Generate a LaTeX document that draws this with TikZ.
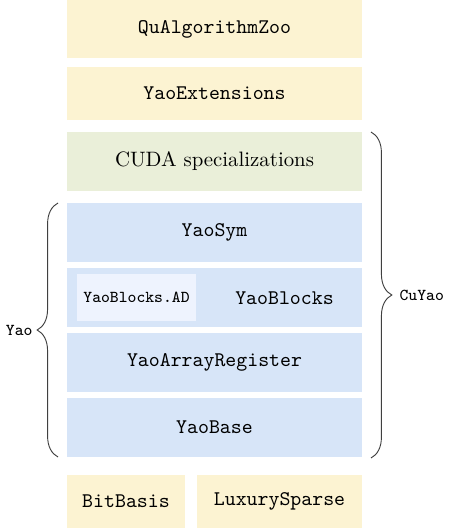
\documentclass[tikz,border=0pt]{standalone}
\usetikzlibrary{decorations.pathreplacing}
\definecolor{yyel}{RGB}{252,243,210}
\definecolor{ygrn}{RGB}{234,239,217}
\definecolor{yblu}{RGB}{215,229,248}
\definecolor{yin}{RGB}{238,243,254}
\begin{document}
\begin{tikzpicture}[x=0.48pt,y=-0.48pt,
  layer/.style={inner sep=0pt,outer sep=0pt,minimum width=141.6pt,minimum height=28.32pt,font=\ttfamily},
  yel/.style={layer,fill=yyel},
  grn/.style={layer,fill=ygrn,font=\rmfamily},
  blu/.style={layer,fill=yblu},
  inner/.style={inner sep=0pt,fill=yin,minimum width=57.1pt,minimum height=22.56pt,font=\ttfamily\footnotesize},
  brc/.style={decorate,decoration={brace,amplitude=10pt},draw=black!75,line width=0.45pt},
  side/.style={font=\ttfamily\footnotesize,inner sep=1pt}]
\useasboundingbox (0,0) rectangle (450,528);
\node[yel,minimum height=27.84pt] (qaz) at (214.5,29) {QuAlgorithmZoo};
\node[yel,minimum height=25.44pt] (ext) at (214.5,93.5) {YaoExtensions};
\node[grn] (cuda) at (214.5,161.5) {CUDA specializations};
\node[blu] (sym) at (214.5,232.5) {YaoSym};
\node[blu] (blocks) at (214.5,297.5) {};
\node[inner] (ad) at (136.5,297.5) {YaoBlocks.AD};
\node[font=\ttfamily,inner sep=0pt] (blab) at (284.5,298.5) {YaoBlocks};
\node[blu] (reg) at (214.5,362.5) {YaoArrayRegister};
\node[blu] (base) at (214.5,427.5) {YaoBase};
\node[yel,minimum width=56.64pt,minimum height=25.44pt] (bit) at (126,501.5) {BitBasis};
\node[yel,minimum width=79.2pt,minimum height=25.44pt] (lux) at (279.5,501.5) {LuxurySparse};
\coordinate (cutop) at (371,132);
\coordinate (cubot) at (371,458);
\coordinate (yaotop) at (58,203);
\coordinate (yaobot) at (58,457);
\draw[brc] (cutop) -- (cubot) node[midway,right=12.5pt,side] (cuyao) {CuYao};
\draw[brc] (yaobot) -- (yaotop) node[midway,left=11pt,side] (yao) {Yao};
\end{tikzpicture}
\end{document}
